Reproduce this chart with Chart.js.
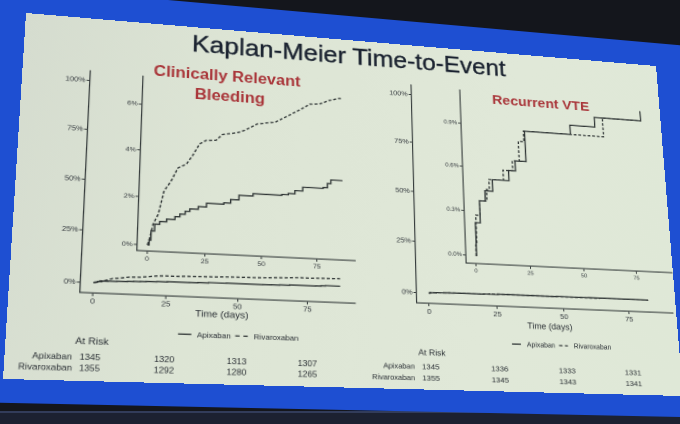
<!DOCTYPE html>
<html><head><meta charset="utf-8">
<title>Kaplan-Meier Time-to-Event</title>
<script src="https://cdn.jsdelivr.net/npm/chart.js@4.4.1/dist/chart.umd.min.js"></script>
<style>
html,body{margin:0;padding:0;width:680px;height:424px;overflow:hidden;background:#14161c;}
#floor{position:absolute;left:0;top:411px;width:680px;height:13px;background:#1c2131;border-top:2px solid #323c5a;}
#frame,#slide{position:absolute;left:0;top:0;transform-origin:0 0;}
#frame{width:720px;height:420px;background:#1e4fd2;}
#slide{width:640px;height:370px;overflow:hidden;
  background:linear-gradient(100deg,#d5dccf 0%,#dde5d5 30%,#e0e8d8 70%,#dfe8d7 100%);}
#slide canvas{position:absolute;left:0;top:0;}
.txt{position:absolute;white-space:nowrap;transform:translate(-50%,-50%);line-height:1;
  font-family:"Liberation Sans",Arial,sans-serif;}
#tTitle{font-size:25.5px;color:#1b2330;-webkit-text-stroke:0.4px #1b2330;}
.red{color:#a9363a;font-weight:bold;}
#tCrb1,#tCrb2{font-size:16px;}
#tVte{font-size:15px;}
</style></head>
<body>
<div id="floor"></div>
<div id="frame"></div>
<div id="slide">
  <canvas id="cMainL" width="640" height="370"></canvas>
  <canvas id="cInsetL" width="640" height="370"></canvas>
  <canvas id="cMainR" width="640" height="370"></canvas>
  <canvas id="cInsetR" width="640" height="370"></canvas>
  <div class="txt" id="tTitle">Kaplan-Meier Time-to-Event</div>
  <div class="txt red" id="tCrb1">Clinically Relevant</div>
  <div class="txt red" id="tCrb2">Bleeding</div>
  <div class="txt red" id="tVte">Recurrent VTE</div>
</div>
<script>
// ---------------- data ----------------
const seriesNames = ['Apixaban', 'Rivaroxaban'];
const xTickValues = [0, 25, 50, 75];
const xTickLabels = ['0', '25', '50', '75'];
const mainYTicks = [0, 25, 50, 75, 100];
const mainYLabels = ['0%', '25%', '50%', '75%', '100%'];
const crbInsetYTicks = [0, 2, 4, 6];
const crbInsetYLabels = ['0%', '2%', '4%', '6%'];
const vteInsetYTicks = [0, 0.3, 0.6, 0.9];
const vteInsetYLabels = ['0.0%', '0.3%', '0.6%', '0.9%'];

// Clinically relevant bleeding, cumulative incidence (%)
const crbApixDays = [0, 0.7, 1.4, 2.9, 5, 8, 11.6, 13.7, 16, 18, 21.7, 25.3, 33, 36, 39.7, 46, 59, 62, 65, 68.6, 78, 80, 81.6, 87];
const crbApixPct  = [0, 0.2, 0.59, 0.88, 1.0, 1.12, 1.24, 1.36, 1.49, 1.6, 1.72, 1.88, 1.94, 2.1, 2.3, 2.4, 2.44, 2.5, 2.64, 2.81, 2.85, 3.04, 3.2, 3.2];
const crbRivaDays = [0, 0.7, 1.4, 2.2, 4.3, 6.5, 9.4, 12.3, 16, 18.8, 21.7, 24.6, 29, 31.8, 39, 42, 47.7, 56, 62, 68, 72, 76.6, 81, 86, 87];
const crbRivaPct  = [0, 0.2, 0.52, 0.88, 1.31, 2.3, 2.73, 3.32, 3.51, 3.92, 4.43, 4.6, 4.63, 4.9, 5.04, 5.16, 5.48, 5.62, 5.95, 6.29, 6.54, 6.58, 6.77, 6.9, 6.9];

// Recurrent VTE, cumulative incidence (%)
const vteApixDays = [0, 0.5, 2.8, 5.5, 9.2, 17, 20.3, 25.5, 47.6, 59.8, 82.8];
const vteApixPct  = [0, 0.22, 0.37, 0.44, 0.52, 0.59, 0.66, 0.875, 0.94, 1.01, 1.08];
const vteRivaDays = [0, 0.3, 0.8, 2.8, 6.3, 7.6, 14.4, 19, 22.3, 25, 63.8, 83];
const vteRivaPct  = [0, 0.07, 0.27, 0.37, 0.45, 0.52, 0.59, 0.66, 0.8, 0.875, 1.01, 1.01];

// Numbers at risk
const riskDays = [0, 25, 50, 75];
const crbRiskApix = [1345, 1320, 1313, 1307];
const crbRiskRiva = [1355, 1292, 1280, 1265];
const vteRiskApix = [1345, 1336, 1333, 1331];
const vteRiskRiva = [1355, 1345, 1343, 1341];

// ---------------- projection of the slide (photo keystone) ----------------
const SW = 640, SH = 370;
const QUAD = [[26, 13], [656, 66], [683, 396], [3, 379]];
function solve(A, b) {
  const n = b.length;
  for (let i = 0; i < n; i++) {
    let p = i;
    for (let r = i + 1; r < n; r++) if (Math.abs(A[r][i]) > Math.abs(A[p][i])) p = r;
    [A[i], A[p]] = [A[p], A[i]]; [b[i], b[p]] = [b[p], b[i]];
    for (let r = i + 1; r < n; r++) {
      const f = A[r][i] / A[i][i];
      for (let c = i; c < n; c++) A[r][c] -= f * A[i][c];
      b[r] -= f * b[i];
    }
  }
  const x = new Array(n).fill(0);
  for (let i = n - 1; i >= 0; i--) {
    let s = b[i];
    for (let c = i + 1; c < n; c++) s -= A[i][c] * x[c];
    x[i] = s / A[i][i];
  }
  return x;
}
function homography(src, dst) {
  const A = [], b = [];
  for (let i = 0; i < 4; i++) {
    const [x, y] = src[i], [u, v] = dst[i];
    A.push([x, y, 1, 0, 0, 0, -x * u, -y * u]); b.push(u);
    A.push([0, 0, 0, x, y, 1, -x * v, -y * v]); b.push(v);
  }
  const h = solve(A, b);
  return [[h[0], h[1], h[2]], [h[3], h[4], h[5]], [h[6], h[7], 1]];
}
function inv3(m) {
  const [a, b, c] = m[0], [d, e, f] = m[1], [g, h, i] = m[2];
  const A = e * i - f * h, B = -(d * i - f * g), C = d * h - e * g;
  const det = a * A + b * B + c * C;
  const r = [[A, -(b * i - c * h), b * f - c * e], [B, a * i - c * g, -(a * f - c * d)], [C, -(a * h - b * g), a * e - b * d]];
  return r.map(row => row.map(v => v / det));
}
function mul3(P, Q) {
  const R = [[0,0,0],[0,0,0],[0,0,0]];
  for (let i = 0; i < 3; i++) for (let j = 0; j < 3; j++) for (let k = 0; k < 3; k++) R[i][j] += P[i][k] * Q[k][j];
  return R;
}
function apply(M, x, y) {
  const w = M[2][0] * x + M[2][1] * y + M[2][2];
  return [(M[0][0] * x + M[0][1] * y + M[0][2]) / w, (M[1][0] * x + M[1][1] * y + M[1][2]) / w];
}
function css(M) {
  const n = M.map(r => r.map(v => v / M[2][2]));
  return `matrix3d(${n[0][0]},${n[1][0]},0,${n[2][0]},${n[0][1]},${n[1][1]},0,${n[2][1]},0,0,1,0,${n[0][2]},${n[1][2]},0,1)`;
}
const H = homography([[0, 0], [SW, 0], [SW, SH], [0, SH]], QUAD);
const Hinv = inv3(H);
const toFlat = (x, y) => apply(Hinv, x, y);
document.getElementById('slide').style.transform = css(H);
document.getElementById('frame').style.transform = css(mul3(H, [[1, 0, -40], [0, 1, -28], [0, 0, 1]]));

function place(id, px, py) {
  const p = toFlat(px, py), el = document.getElementById(id);
  el.style.left = p[0] + 'px'; el.style.top = p[1] + 'px';
}
place('tTitle', 353, 57);
place('tCrb1', 228, 77);
place('tCrb2', 230, 97);
place('tVte', 541, 102.5);

// ---------------- charts ----------------
const FONT = '"Liberation Sans", Arial, sans-serif';
const AXC = '#363c3c', TICKC = '#33383d', LINEC = '#303636';

const extrasPlugin = {
  id: 'extras',
  afterDraw(chart, args, o) {
    if (!o || !o.time) return;
    const ctx = chart.ctx, xs = chart.scales.x;
    ctx.save();
    ctx.fillStyle = '#2a2f34';
    ctx.textBaseline = 'middle';
    let p = toFlat(o.time[0], o.time[1]);
    ctx.font = `${o.timeFont}px ${FONT}`; ctx.textAlign = 'center';
    ctx.fillText('Time (days)', p[0], p[1]);
    p = toFlat(o.legend[0], o.legend[1]);
    ctx.font = `${o.legFont}px ${FONT}`; ctx.textAlign = 'left';
    let x = p[0];
    chart.data.datasets.forEach(ds => {
      ctx.save();
      ctx.strokeStyle = ds.borderColor; ctx.lineWidth = 1.3;
      ctx.setLineDash(ds.borderDash && ds.borderDash.length ? o.legDash : []);
      ctx.beginPath(); ctx.moveTo(x, p[1]); ctx.lineTo(x + o.seg, p[1]); ctx.stroke();
      ctx.restore();
      x += o.seg + o.gap;
      ctx.fillText(ds.label, x, p[1] + 0.5);
      x += ctx.measureText(ds.label).width + o.gap2;
    });
    p = toFlat(o.atRisk[0], o.atRisk[1]);
    ctx.font = `${o.atRiskFont}px ${FONT}`; ctx.textAlign = 'center';
    ctx.fillText('At Risk', p[0], p[1]);
    o.rows.forEach((ry, r) => {
      const lp = toFlat(o.rowLabelX, ry);
      ctx.font = `${o.rowFont}px ${FONT}`; ctx.textAlign = 'right';
      ctx.fillText(chart.data.datasets[r].label, lp[0], lp[1]);
      ctx.font = `${o.numFont}px ${FONT}`; ctx.textAlign = 'center';
      o.risk[r].forEach((n, k) => ctx.fillText(String(n), xs.getPixelForValue(riskDays[k]), lp[1]));
    });
    ctx.restore();
  }
};

function series(days, pct, name, dashed, stepped) {
  return {
    label: name,
    data: days.map((d, i) => ({ x: d, y: pct[i] })),
    borderColor: LINEC, borderWidth: 1.35,
    borderDash: dashed ? [3, 2] : [],
    stepped: stepped, pointRadius: 0, fill: false, tension: 0
  };
}

function makePlot(id, p) {
  const O = toFlat(...p.origin), T = toFlat(...p.top), R = toFlat(...p.right);
  const left = (O[0] + T[0]) / 2, bottom = (O[1] + R[1]) / 2, top = T[1], right = R[0];
  const yW = p.yW, xH = p.xH;
  new Chart(document.getElementById(id), {
    type: 'line',
    data: { datasets: p.datasets },
    options: {
      responsive: false, animation: false, devicePixelRatio: 2,
      layout: { padding: { left: left - yW, top: top, right: SW - right, bottom: SH - bottom - xH } },
      plugins: { legend: { display: false }, tooltip: { enabled: false }, extras: p.extras || {} },
      scales: {
        x: {
          type: 'linear', min: p.xmin, max: p.xmax,
          afterFit: s => { s.height = xH; },
          afterBuildTicks: s => { s.ticks = xTickValues.map(v => ({ value: v })); },
          ticks: { callback: v => xTickLabels[xTickValues.indexOf(v)], autoSkip: false, maxRotation: 0,
                   font: { family: FONT, size: p.xFont }, color: TICKC, padding: 1 },
          grid: { display: true, drawOnChartArea: false, drawTicks: true, tickLength: 3, color: AXC, lineWidth: 1 },
          border: { display: true, color: AXC, width: 1.15 }
        },
        y: {
          type: 'linear', min: p.ymin, max: p.ymax,
          afterFit: s => { s.width = yW; },
          afterBuildTicks: s => { s.ticks = p.yTicks.map(v => ({ value: v })); },
          ticks: { callback: v => p.yLabels[p.yTicks.indexOf(v)], autoSkip: false,
                   font: { family: FONT, size: p.yFont }, color: TICKC, padding: 1 },
          grid: { display: true, drawOnChartArea: false, drawTicks: true, tickLength: 3, color: AXC, lineWidth: 1 },
          border: { display: true, color: AXC, width: 1.15 }
        }
      }
    },
    plugins: [extrasPlugin]
  });
}

const crbSets = () => [
  series(crbApixDays, crbApixPct, seriesNames[0], false, true),
  series(crbRivaDays, crbRivaPct, seriesNames[1], true, false)
];
const vteSets = () => [
  series(vteApixDays, vteApixPct, seriesNames[0], false, true),
  series(vteRivaDays, vteRivaPct, seriesNames[1], true, true)
];

makePlot('cMainL', {
  origin: [80, 292], top: [90, 71], right: [355, 304],
  xmin: -4.4, xmax: 92.4, ymin: -5, ymax: 105,
  yTicks: mainYTicks, yLabels: mainYLabels, yFont: 7.2, xFont: 7.4, yW: 28, xH: 14,
  datasets: crbSets(),
  extras: { time: [222, 315], timeFont: 9.3, legend: [178, 334], legFont: 7.4, seg: 12, gap: 5, gap2: 4, legDash: [4, 3.5],
            atRisk: [92, 342], atRiskFont: 9.2, rowLabelX: 72, rows: [357.3, 368.3], rowFont: 8.2, numFont: 8.1,
            risk: [crbRiskApix, crbRiskRiva] }
});
makePlot('cInsetL', {
  origin: [137, 250], top: [143, 76], right: [355, 261],
  xmin: -4.4, xmax: 92.4, ymin: -0.25, ymax: 7.25,
  yTicks: crbInsetYTicks, yLabels: crbInsetYLabels, yFont: 6.8, xFont: 6.6, yW: 20, xH: 12,
  datasets: crbSets()
});
makePlot('cMainR', {
  origin: [417, 303], top: [411, 85], right: [673, 313],
  xmin: -4.4, xmax: 92.4, ymin: -5, ymax: 105,
  yTicks: mainYTicks, yLabels: mainYLabels, yFont: 7.3, xFont: 7.6, yW: 28, xH: 14,
  datasets: vteSets(),
  extras: { time: [550, 327], timeFont: 8.8, legend: [512, 344], legFont: 6.9, seg: 9, gap: 6, gap2: 4, legDash: [3.5, 2.5],
            atRisk: [432, 353], atRiskFont: 8.4, rowLabelX: 415, rows: [366.7, 378.3], rowFont: 7.3, numFont: 7.7,
            risk: [vteRiskApix, vteRiskRiva] }
});
makePlot('cInsetR', {
  origin: [467, 263], top: [459, 90], right: [672, 273],
  xmin: -4.4, xmax: 92.4, ymin: -0.054, ymax: 1.134,
  yTicks: vteInsetYTicks, yLabels: vteInsetYLabels, yFont: 6.1, xFont: 5.9, yW: 22, xH: 12,
  datasets: vteSets()
});
</script>
</body></html>
